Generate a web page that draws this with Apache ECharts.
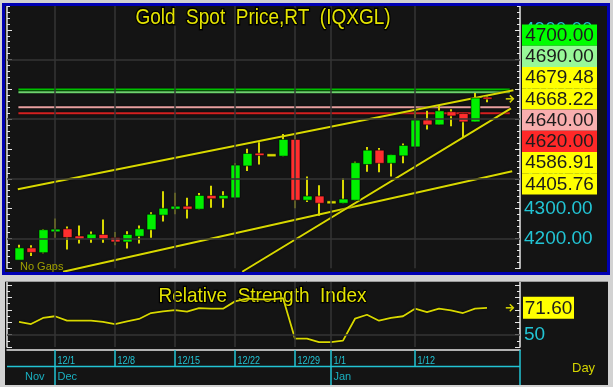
<!DOCTYPE html>
<html><head><meta charset="utf-8">
<script src="https://cdn.jsdelivr.net/npm/echarts@6/dist/echarts.min.js"></script>
<style>html,body{margin:0;padding:0;background:#141414}#c{width:613px;height:387px}</style>
</head><body><div id="c"></div>
<script>
// ---------- DATA ----------
const dates = ['11/26','11/27','11/28','12/1','12/2','12/3','12/4','12/5','12/8','12/9','12/10','12/11','12/12','12/15','12/16','12/17','12/18','12/19','12/22','12/23','12/24','12/25','12/26','12/29','12/30','12/31','1/1','1/2','1/5','1/6','1/7','1/8','1/9','1/12','1/13','1/14','1/15','1/16','1/19','1/20'];
const opens  = [4127,4168,4152,4222,4232,4208,4199,4213,4203,4188,4207,4229,4278,4298,4308,4298,4344,4333,4336,4443,4486,4479,4476,4532,4328,4342,4321,4318,4328,4448,4496,4452,4477,4507,4597,4581,4625,4619,4591,4674];
const closes = [4168,4153,4229,4231,4203,4198,4214,4199,4188,4213,4232,4281,4301,4308,4298,4344,4333,4344,4446,4485,4478,4479,4532,4328,4342,4318,4321,4332,4454,4496,4452,4481,4512,4597,4581,4628,4611,4591,4671,4668.22];
const lows   = [4127,4141,4150,4202,4163,4183,4185,4185,4177,4166,4183,4202,4257,4281,4267,4298,4303,4303,4336,4426,4448,4479,4476,4301,4322,4276,4321,4318,4328,4424,4422,4408,4452,4507,4565,4581,4576,4540,4591,4657];
const highs  = [4179,4177,4231,4267,4240,4243,4223,4263,4221,4224,4243,4288,4358,4353,4336,4352,4377,4358,4452,4501,4523,4479,4550,4550,4408,4378,4321,4402,4457,4507,4503,4481,4518,4628,4628,4644,4633,4619,4688,4677];
const rsi    = [60.2,58.5,63.4,64.8,61.2,61.2,61.2,60.2,58.5,60.7,62.6,67.4,68.8,69.8,68.5,71.4,70.9,70.9,76.8,79.0,78.4,78.4,79.5,46.7,46.7,44.0,44.0,45.1,62.8,66.0,61.2,63.4,64.8,70.9,68.2,70.9,69.6,67.4,70.9,71.6];
const lastRsi = 71.60;

// trend lines: [barIndex, price] end points
const upperTrend = [[-0.1, 4365], [41.2, 4697]];
const lowerTrend = [[3.67, 4088], [41.1, 4425]];
const steepTrend = [[18.6, 4088], [41.0, 4636]];

// horizontal levels
const levelValues = [4700, 4690, 4640, 4620];
const levelSpan = [-0.05, 40.9];

// right-hand value boxes
const priceLabelValues = [4700.00, 4690.00, 4679.48, 4668.22, 4640.00, 4620.00, 4586.91, 4405.76];

// axis text
const gridDateLabels = ['12/1','12/8','12/15','12/22','12/29','1/1','1/12'];
const monthNames = ['Nov','Dec','Jan'];
const monthFirstDates = ['11/26','12/1','1/1'];
const priceGridValues = [4200, 4400, 4600, 4800];
const rsiGridValues = [50];
const priceTitle = 'Gold  Spot  Price,RT  (IQXGL)';
const rsiTitle = 'Relative  Strength  Index';

// ---------- STYLE ----------
const levelColors = ['#00c800', '#6cd46c', '#e8a0a0', '#d42020'];
const boxColors = ['#00ff00', '#98f898', '#ffff00', '#ffff00', '#f8aeae', '#ff2828', '#ffff00', '#ffff00'];
const YEL = '#d8d800', CYAN = '#22c4d4', GRIDC = '#353535', WHITE = '#e6e6e6';
const FONT = '"Liberation Sans", Arial, sans-serif';

const chart = echarts.init(document.getElementById('c'), null, {renderer: 'canvas', width: 613, height: 387});

function renderCandle(params, api) {
  const i = api.value(0), o = api.value(1), c = api.value(2), l = api.value(3), h = api.value(4);
  const pO = api.coord([i, o]), pC = api.coord([i, c]), pL = api.coord([i, l]), pH = api.coord([i, h]);
  const w = 9;
  const x = pO[0];
  const bx = Math.round(x - w / 2);
  if (h === l) {
    return {type: 'rect', shape: {x: bx, y: pO[1] - 1.5, width: w, height: 3}, style: {fill: YEL, stroke: 'rgba(0,0,0,0.5)', lineWidth: 1}};
  }
  const up = c >= o;
  const top = Math.min(pO[1], pC[1]), bot = Math.max(pO[1], pC[1]);
  return {type: 'group', children: [
    {type: 'line', shape: {x1: x, y1: pH[1], x2: x, y2: pL[1]}, style: {stroke: YEL, lineWidth: 2}},
    {type: 'rect', shape: {x: bx, y: top, width: w, height: Math.max(bot - top, 2)},
     style: {fill: up ? '#00f000' : '#ff2e2e', stroke: 'rgba(0,0,0,0.55)', lineWidth: 1}}
  ]};
}

const tickStyle = {color: WHITE, width: 1};
function yAx(grid, pos, min, max, interval, split, showLabel, fmt) {
  return {
    type: 'value', gridIndex: grid, position: pos, min: min, max: max, interval: interval,
    axisLine: {show: true, onZero: false, lineStyle: {color: WHITE, width: 1.5}},
    axisTick: {show: true, inside: true, length: 5, lineStyle: tickStyle},
    minorTick: {show: true, splitNumber: split, length: 3, lineStyle: tickStyle},
    splitLine: {show: false}, minorSplitLine: {show: false},
    axisLabel: {show: showLabel, color: CYAN, fontSize: 19, fontFamily: FONT, margin: 4, formatter: fmt}
  };
}

const series = [];
series.push({
  type: 'line', xAxisIndex: 0, yAxisIndex: 0, data: [], silent: true, z: 1,
  markLine: {silent: true, symbol: 'none', animation: false, label: {show: false},
    lineStyle: {color: GRIDC, width: 1.5, type: 'solid'},
    data: gridDateLabels.map(d => ({xAxis: dates.indexOf(d)})).concat(priceGridValues.map(v => ({yAxis: v})))}
});
series.push({
  type: 'line', xAxisIndex: 1, yAxisIndex: 2, data: [], silent: true, z: 1,
  markLine: {silent: true, symbol: 'none', animation: false, label: {show: false},
    lineStyle: {color: GRIDC, width: 1.5, type: 'solid'},
    data: gridDateLabels.map(d => ({xAxis: dates.indexOf(d)})).concat(rsiGridValues.map(v => ({yAxis: v})))}
});
levelValues.forEach((v, k) => series.push({
  type: 'line', xAxisIndex: 0, yAxisIndex: 0, silent: true, symbol: 'none', z: 3,
  data: [[levelSpan[0], v], [levelSpan[1], v]],
  lineStyle: {color: levelColors[k], width: 2, shadowColor: 'rgba(0,0,0,0.9)', shadowBlur: 2}
}));
[upperTrend, lowerTrend, steepTrend].forEach(t => series.push({
  type: 'line', xAxisIndex: 0, yAxisIndex: 0, silent: true, symbol: 'none', z: 3, clip: false,
  data: t, lineStyle: {color: YEL, width: 2, shadowColor: 'rgba(0,0,0,0.9)', shadowBlur: 2}
}));
series.push({
  type: 'custom', xAxisIndex: 0, yAxisIndex: 0, z: 4, silent: true,
  renderItem: renderCandle,
  encode: {x: 0, y: [1, 2, 3, 4]},
  data: dates.map((d, i) => [i, opens[i], closes[i], lows[i], highs[i]])
});
series.push({
  type: 'line', xAxisIndex: 1, yAxisIndex: 2, silent: true, symbol: 'none', z: 4,
  data: rsi.map((v, i) => [i, v]),
  lineStyle: {color: YEL, width: 1.8, shadowColor: 'rgba(0,0,0,0.9)', shadowBlur: 2}
});

const option = {
  backgroundColor: '#141414',
  animation: false,
  grid: [
    {left: 7, top: -3.33, width: 513, height: 271.5},
    {left: 7, top: 278.8, width: 513, height: 68.2}
  ],
  xAxis: [
    {type: 'value', gridIndex: 0, min: -1, max: 41.75, show: false},
    {type: 'value', gridIndex: 1, min: -1, max: 41.75, offset: 3,
     axisLine: {show: true, onZero: false, lineStyle: {color: WHITE, width: 1.5}},
     axisTick: {show: false}, axisLabel: {show: false}, splitLine: {show: false}}
  ],
  yAxis: [
    yAx(0, 'right', 4100, 5000, 100, 5, true, v => (v > 4100 && v < 5000 && v % 100 === 0) ? v.toFixed(2) : ''),
    yAx(0, 'left', 4100, 5000, 100, 5, false),
    yAx(1, 'right', 40, 95, 10, 2, true, v => v === 50 ? '50' : ''),
    yAx(1, 'left', 40, 95, 10, 2, false)
  ],
  series: series
};
chart.setOption(option);

// ---------- overlay text & frames (positions from the chart's scales) ----------
const px = v => chart.convertToPixel({xAxisIndex: 0}, v);
const py = v => chart.convertToPixel({yAxisIndex: 0}, v);
const ry = v => chart.convertToPixel({yAxisIndex: 2}, v);
const g = [];
const FRAME = '#d2d2d2';
function rect(x, y, w, h, fill, z) { g.push({type: 'rect', silent: true, z: z, shape: {x: x, y: y, width: w, height: h}, style: {fill: fill}}); }
function text(x, y, s, opt) {
  g.push(Object.assign({type: 'text', silent: true, z: opt.z || 50, x: x, y: y,
    style: {text: s, fill: opt.fill, font: opt.font, textAlign: opt.align || 'left', textVerticalAlign: 'middle',
      stroke: opt.stroke, lineWidth: opt.lw || 0, strokeFirst: true}}, opt.extra || {}));
}
function line(x1, y1, x2, y2, color, w, z) {
  g.push({type: 'line', silent: true, z: z || 50, shape: {x1: x1, y1: y1, x2: x2, y2: y2}, style: {stroke: color, lineWidth: w}});
}

// frame
rect(0, 0, 613, 3, FRAME, 100);
rect(0, 0, 2, 387, FRAME, 100);
rect(610, 0, 3, 387, FRAME, 100);
rect(0, 275, 613, 6, FRAME, 100);
rect(0, 275, 5, 112, FRAME, 100);
rect(608, 275, 5, 112, FRAME, 100);
rect(0, 385, 613, 2, FRAME, 100);
g.push({type: 'rect', silent: true, z: 101, shape: {x: 3.5, y: 4.5, width: 605, height: 269}, style: {fill: 'none', stroke: '#0000b4', lineWidth: 3}});
line(5, 281.5, 608, 281.5, '#9a9a9a', 1, 101);

// titles
text(263, 18, priceTitle, {fill: '#e4e400', font: '19px ' + FONT, align: 'center', stroke: '#000', lw: 2.5, z: 10, extra: {scaleY: 1.12, originY: 0}});
text(262.5, 296, rsiTitle, {fill: '#e4e400', font: '19px ' + FONT, align: 'center', stroke: '#000', lw: 2.5, z: 1, extra: {scaleY: 1.1, originY: 0}});
text(20, 267, 'No Gaps', {fill: '#a0a000', font: '11px ' + FONT, z: 10});

// stacked value boxes
const H = 21.25;
const anchor = priceLabelValues.indexOf(closes[closes.length - 1]);
const want = priceLabelValues.map(py);
const pos = want.slice();
for (let k = anchor - 1; k >= 0; k--) pos[k] = Math.min(want[k], pos[k + 1] - H);
for (let k = anchor + 1; k < pos.length; k++) pos[k] = Math.max(want[k], pos[k - 1] + H);
priceLabelValues.forEach((v, k) => {
  rect(522, pos[k] - H / 2, 75, H, boxColors[k], 60);
  text(559.5, pos[k] + 0.5, v.toFixed(2), {fill: '#1c1c1c', font: '19px ' + FONT, align: 'center', z: 61});
});
// RSI value box
const rY = ry(lastRsi);
rect(523, rY - 11, 51, 22, '#ffff00', 60);
text(548.5, rY + 0.5, lastRsi.toFixed(2), {fill: '#1c1c1c', font: '19px ' + FONT, align: 'center', z: 61});

// last-value arrows
function arrow(y) {
  const xc = px(40.9);
  g.push({type: 'polyline', silent: true, z: 50, shape: {points: [[xc - 4, y], [xc + 3.5, y]]}, style: {stroke: YEL, lineWidth: 1.5, fill: 'none'}});
  g.push({type: 'polyline', silent: true, z: 50, shape: {points: [[xc, y - 3.5], [xc + 3.5, y], [xc, y + 3.5]]}, style: {stroke: YEL, lineWidth: 1.5, fill: 'none'}});
}
arrow(py(closes[closes.length - 1]));
arrow(rY);

// date axis
const xAxisRight = px(41.75);
line(7, 366.5, xAxisRight, 366.5, CYAN, 1.5, 50);
line(xAxisRight, 350, xAxisRight, 387, CYAN, 1.5, 50);
gridDateLabels.forEach(d => {
  const i = dates.indexOf(d);
  const x = px(i);
  const monthStart = monthFirstDates.indexOf(d) > 0;
  line(x, 350, x, monthStart ? 385 : 366, CYAN, 1.5, 50);
  text(x + 2.5, 361, d, {fill: CYAN, font: '11px ' + FONT, z: 50, extra: {scaleX: 0.82, originX: 0}});
});
monthNames.forEach((m, k) => {
  const i = dates.indexOf(monthFirstDates[k]);
  const x = k === 0 ? px(i) + 6 : px(i) + 2.5;
  text(x, 376.5, m, {fill: '#1ab0c0', font: '11px ' + FONT, z: 50});
});
text(572, 368, 'Day', {fill: '#d4d400', font: '13px ' + FONT, z: 50});

chart.setOption({graphic: {elements: g}});
</script>
</body></html>
